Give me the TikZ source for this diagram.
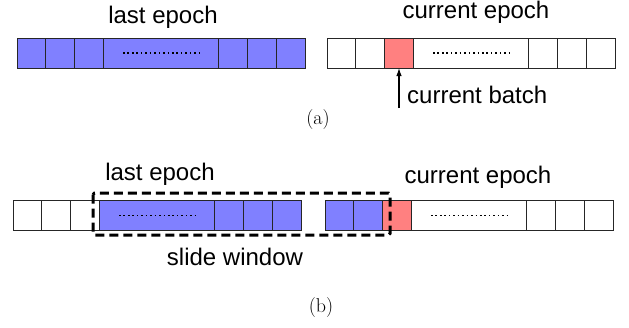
\documentclass[tikz,border=0pt]{standalone}
\usepackage{fontspec}
\newfontfamily\labelfont{Liberation Sans}
\usetikzlibrary{arrows.meta}
\definecolor{pastblue}{RGB}{128,128,255}
\definecolor{batchred}{RGB}{255,128,128}
\tikzset{
  cell/.style={draw=black!85, line width=0.8pt, minimum width=28.8pt,
    minimum height=30pt, inner sep=0pt, outer sep=0pt, anchor=west},
  widecell/.style={cell, minimum width=115.2pt},
  past/.style={fill=pastblue},
  now/.style={fill=batchred},
  lbl/.style={font=\labelfont\fontsize{24}{28}\selectfont, inner sep=0pt},
  caption/.style={font=\fontsize{20}{24}\selectfont, inner sep=0pt},
  ellipsis/.style={line width=1.6pt, dash pattern=on 1.6pt off 2.85pt},
  window/.style={line width=3pt, dash pattern=on 9pt off 5pt, rounded corners=1.5pt},
  pointer/.style={line width=1.1pt, -{Latex[length=8pt,width=5.5pt]}}
}
\begin{document}
\begin{tikzpicture}[x=1pt, y=-1pt]
\useasboundingbox (0,0) rectangle (629,327);

% ---- (a): previous epoch, all batches seen ----
\node[cell, past] (p1) at (17,53) {};
\node[cell, past] (p2) at (p1.east) {};
\node[cell, past] (p3) at (p2.east) {};
\node[widecell, past] (p4) at (p3.east) {};
\node[cell, past] (p5) at (p4.east) {};
\node[cell, past] (p6) at (p5.east) {};
\node[cell, past] (p7) at (p6.east) {};
\draw[ellipsis] ([xshift=-38pt]p4.center) -- ([xshift=38pt]p4.center);

% ---- (a): current epoch ----
\node[cell] (c1) at (327,53) {};
\node[cell] (c2) at (c1.east) {};
\node[cell, now] (c3) at (c2.east) {};
\node[widecell] (c4) at (c3.east) {};
\node[cell] (c5) at (c4.east) {};
\node[cell] (c6) at (c5.east) {};
\node[cell] (c7) at (c6.east) {};
\draw[ellipsis] ([xshift=-38pt]c4.center) -- ([xshift=38pt]c4.center);

\node[lbl, anchor=base] (lastA) at (163,23.5) {last epoch};
\node[lbl, anchor=base] (curA) at (476,18.5) {current epoch};
\coordinate (batchtail) at (c3.center |- 0,108);
\draw[pointer] (batchtail) -- (c3.south);
\node[lbl, anchor=base west] (batchlbl) at (407,103) {current batch};
\node[caption] (capA) at (318,120) {(a)};

% ---- (b): previous epoch ----
\node[cell] (q1) at (13,215.5) {};
\node[cell] (q2) at (q1.east) {};
\node[cell] (q3) at (q2.east) {};
\node[widecell, past] (q4) at (q3.east) {};
\node[cell, past] (q5) at (q4.east) {};
\node[cell, past] (q6) at (q5.east) {};
\node[cell, past] (q7) at (q6.east) {};
\draw[ellipsis] ([xshift=-38pt]q4.center) -- ([xshift=38pt]q4.center);

% ---- (b): current epoch ----
\node[cell, past] (r1) at (325,215.5) {};
\node[cell, past] (r2) at (r1.east) {};
\node[cell, now] (r3) at (r2.east) {};
\node[widecell] (r4) at (r3.east) {};
\node[cell] (r5) at (r4.east) {};
\node[cell] (r6) at (r5.east) {};
\node[cell] (r7) at (r6.east) {};
\draw[ellipsis] ([xshift=-38pt]r4.center) -- ([xshift=38pt]r4.center);

% sliding window spanning both epochs
\draw[window] (93,193) rectangle (390,235);

\node[lbl, anchor=base] (lastB) at (160,180.5) {last epoch};
\node[lbl, anchor=base] (curB) at (478,183) {current epoch};
\node[lbl, anchor=base] (winlbl) at (235,265) {slide window};
\node[caption] (capB) at (321,308) {(b)};
\end{tikzpicture}
\end{document}
